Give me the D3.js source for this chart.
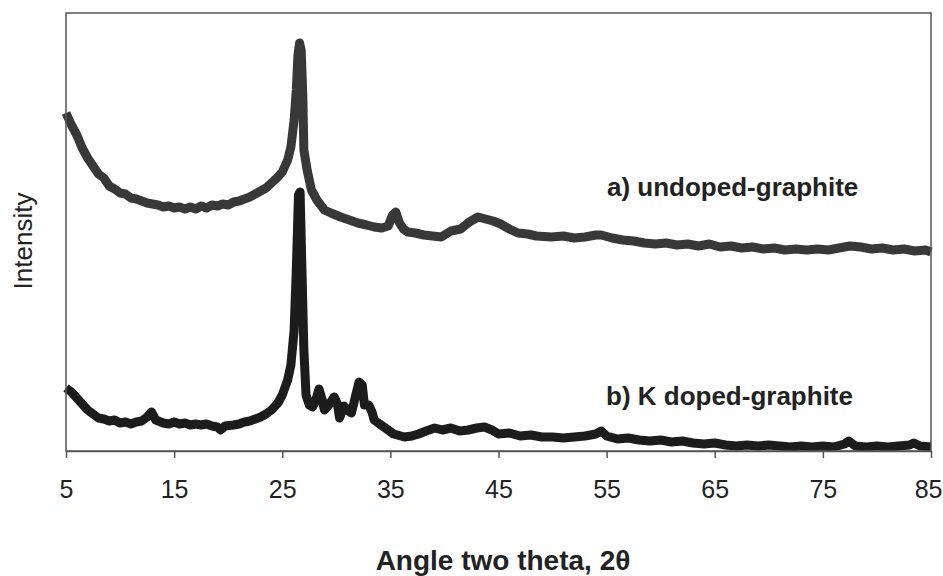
<!DOCTYPE html>
<html><head><meta charset="utf-8">
<script src="https://cdn.jsdelivr.net/npm/d3@7"></script>
<style>body{margin:0;background:#fff}svg{display:block;font-family:"Liberation Sans",Arial,sans-serif}</style>
</head><body><svg id="c" width="943" height="576"></svg>
<script>
const xTicks = [5,15,25,35,45,55,65,75,85];
const seriesNames = ["a) undoped-graphite","b) K doped-graphite"];
const undopedX = [5,5.5,6,6.5,7,7.5,8,8.5,9,9.5,10,10.5,11,11.5,12,12.5,13,13.5,14,14.5,15,15.5,16,16.5,17,17.5,18,18.5,19,19.5,20,20.5,21,21.5,22,22.5,23,23.5,24,24.5,25,25.5,25.8,26.1,26.3,26.45,26.6,26.75,26.9,27.0,27.3,27.7,28.2,28.9,29.5,30.4,31.2,32,32.8,33.5,34.2,34.8,35.2,35.5,35.8,36.2,36.6,37.3,38.1,38.9,39.7,40.6,41.5,42.3,43.1,43.8,44.5,45.2,46,46.8,47.7,48.5,49.9,51,52,53,54,54.5,55.5,56.5,57.5,58.5,59.5,60.5,61.5,62.5,63.5,64.5,65.5,66.5,67.5,68.5,69.5,70.5,71.5,72.5,73.5,74.5,75.5,76.5,77.5,78.5,79.5,80.5,81.5,82.5,83.5,84.5,85];
const undopedY = [338,326,316,303,293,285,277,273,265,262,258,257,253,252,250,248,247,246,244,245,243,244,242,244,242,245,243,246,245,247,246,249,250,252,254,257,260,263,268,273,279,291,304,331,361,396,408,401,356,301,281,261,251,241,238,234,231,228,226,224,223,225,236,239,229,222,219,218,216,215,214,220,222,229,234,232,230,227,222,218,217,215,214,215,213,214,216,216,213,211,210,208,207,208,206,207,205,207,204,205,203,204,202,203,201,202,201,202,201,203,205,204,202,203,201,202,200,201,199];
const dopedX = [5,5.5,6,6.5,7,7.5,8,8.5,9,9.5,10,10.5,11,11.5,12,12.5,12.9,13.3,14,14.5,15,15.5,16,16.5,17,17.5,18,18.5,19,19.3,19.7,20.5,21,21.5,22,22.5,23,23.5,24,24.6,25,25.5,25.8,26.1,26.3,26.5,26.65,26.8,27.0,27.2,27.5,27.8,28.1,28.4,28.7,28.9,29.3,29.8,30.1,30.3,30.7,31.0,31.4,31.8,32.1,32.4,32.6,33.0,33.3,33.5,34.0,34.4,35.3,36.3,37,37.6,38.3,39.1,39.8,40.6,41.4,42.2,43,43.7,44.4,45,46,47,48,49,50,51,52,53,54,54.5,55,56,57,58,59,60,61,62,63,64,65,66,67,68,69,70,71,72,73,74,75,76,77,77.4,78,79,80,81,82,83,83.4,84,85];
const dopedY = [63,59,53,47,41,37,33,32,30,31,28,29,27,29,30,34,39,31,28,27,29,27,28,26,27,26,27,25,24,21,25,26,27,29,30,32,34,37,41,48,56,71,86,121,181,256,259,191,101,56,46,44,51,62,51,41,46,54,47,33,45,41,38,56,69,66,46,46,39,31,27,24,17,14,15,17,20,23,21,23,20,21,23,24,21,17,18,15,16,14,14,13,14,15,17,20,15,12,13,11,10,11,9,10,8,7,8,6,5,6,5,6,5,4,5,4,5,4,7,10,5,4,5,4,5,6,8,5,4];

const svg = d3.select("#c");
const L=66, R=931, T=13, B=451;
const x = d3.scaleLinear().domain([5,85]).range([L,R]);
const y = d3.scaleLinear().domain([0,438]).range([B,T]);

const plot = svg.append("g");
const line = d3.line().x(d=>x(d[0])).y(d=>y(d[1])).curve(d3.curveLinear);
plot.append("path").datum(d3.zip(undopedX,undopedY))
  .attr("d",line).attr("fill","none").attr("stroke","#383838")
  .attr("stroke-width",9).attr("stroke-linejoin","round").attr("stroke-linecap","butt");
plot.append("path").datum(d3.zip(dopedX,dopedY))
  .attr("d",line).attr("fill","none").attr("stroke","#1c1c1c")
  .attr("stroke-width",9).attr("stroke-linejoin","round").attr("stroke-linecap","butt");

// frame
svg.append("rect").attr("x",L).attr("y",T).attr("width",R-L).attr("height",B-T)
  .attr("fill","none").attr("stroke","#555").attr("stroke-width",1.5);

const xa = svg.append("g").attr("transform",`translate(0,${B})`)
  .call(d3.axisBottom(x).tickValues(xTicks).tickSize(7).tickSizeOuter(0));
xa.select(".domain").attr("stroke","#555").attr("stroke-width",1.5);
xa.selectAll(".tick line").attr("stroke","#555").attr("stroke-width",1.5);
xa.selectAll(".tick text").attr("font-size",25).attr("fill","#222")
  .attr("y",47).attr("dy",null)
  .attr("font-family","'Liberation Sans',Arial,sans-serif");
xa.selectAll(".tick text").filter(d=>d===85).attr("text-anchor","end").attr("x",11);

svg.append("text").attr("x",503).attr("y",570).attr("text-anchor","middle")
  .attr("font-size",28).attr("font-weight","bold").attr("fill","#222").text("Angle two theta, 2θ");
svg.append("text").attr("transform","translate(32,241) rotate(-90)").attr("text-anchor","middle")
  .attr("font-size",26).attr("fill","#222").text("Intensity");

svg.append("text").attr("x",607).attr("y",196).attr("font-size",26).attr("font-weight","bold")
  .attr("fill","#222").text(seriesNames[0]);
svg.append("text").attr("x",606).attr("y",405).attr("font-size",26).attr("font-weight","bold")
  .attr("fill","#222").text(seriesNames[1]);
</script></body></html>
